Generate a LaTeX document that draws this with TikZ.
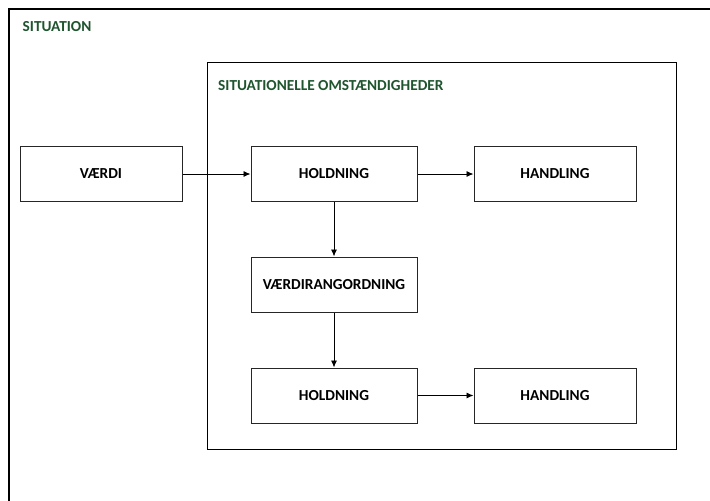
\documentclass[tikz,border=0pt]{standalone}
\usepackage{fontspec}
\setmainfont{Carlito}
\usetikzlibrary{arrows.meta}
\definecolor{titlegreen}{RGB}{31,84,46}

\begin{document}
\begin{tikzpicture}[x=1pt,y=-1pt,
  box/.style={draw=black!85,line width=1pt,minimum width=162pt,minimum height=55pt,inner sep=0pt,font=\fontsize{15.3}{18}\selectfont\bfseries},
  title/.style={anchor=west,inner sep=0pt,text=titlegreen,font=\fontsize{15.3}{18}\selectfont\bfseries},
  pil/.style={-{Latex[length=7pt,width=6pt]},line width=0.9pt}]

\useasboundingbox (0,0) rectangle (710,501);
\clip (0,0) rectangle (710,501);

% situation and circumstances
\draw[line width=2pt] (9,9) rectangle (730,530);
\node[title] (situation) at (22.5,27) {SITUATION};
\draw[line width=1pt] (207,62) rectangle (676,449);
\node[title] (omst) at (218,86) {SITUATIONELLE OMSTÆNDIGHEDER};

\node[box] (vaerdi) at (101,174) {VÆRDI};
\node[box,minimum width=166pt] (hold1) at (334,174) {HOLDNING};
\node[box] (hand1) at (555,174) {HANDLING};
\node[box,minimum width=166pt] (rang) at (334,284.5) {VÆRDIRANGORDNING};
\node[box,minimum width=166pt] (hold2) at (334,395.5) {HOLDNING};
\node[box] (hand2) at (555,395.5) {HANDLING};

\draw[pil] (vaerdi)--(hold1);
\draw[pil] (hold1)--(hand1);
\draw[pil] (hold1)--(rang);
\draw[pil] (rang)--(hold2);
\draw[pil] (hold2)--(hand2);

\end{tikzpicture}
\end{document}
